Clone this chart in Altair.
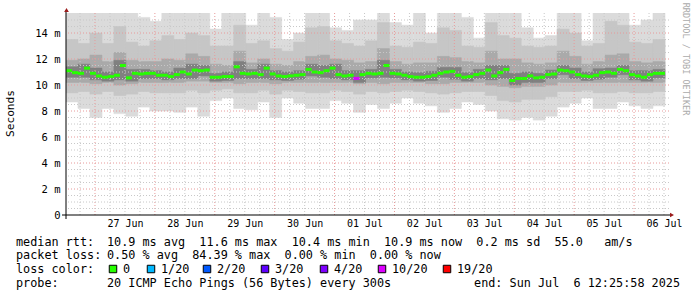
import altair as alt
import numpy as np
import pandas as pd

# ---------------- data ----------------
FIRST_SAMPLE = "2025-06-26 12:23"
MEDIAN_STEP = "144min"   # one median value per 0.1 day
SMOKE_STEP = "288min"    # one smoke column per 0.2 day

median_ms = [
    11.1, 10.95, 10.9, 11.3, 10.9, 10.7, 10.6, 10.65, 10.75, 11.5,
    10.55, 10.9, 10.85, 10.9, 10.9, 10.75, 10.75, 10.65, 10.8, 11.0,
    10.85, 11.15, 11.1, 11.15, 10.6, 10.6, 10.65, 10.65, 11.4, 10.9,
    10.85, 10.9, 10.8, 11.3, 10.85, 10.7, 10.65, 10.7, 10.75, 10.8,
    11.2, 11.0, 10.95, 11.1, 11.3, 10.8, 10.7, 10.75, 10.5, 10.8,
    10.9, 10.85, 10.9, 11.5, 10.9, 10.85, 10.75, 10.65, 10.6, 10.6,
    10.65, 10.75, 10.9, 11.0, 11.05, 10.75, 10.6, 10.65, 10.8, 10.9,
    11.15, 10.7, 10.95, 11.2, 10.35, 10.5, 10.5, 10.7, 10.55, 10.6,
    10.8, 10.85, 11.15, 11.1, 11.0, 10.8, 10.7, 10.65, 10.75, 10.95,
    11.0, 10.9, 11.2, 11.1, 10.8, 10.7, 10.6, 10.8, 10.9, 10.9,
]
loss_events = {48: "10/20"}   # median slots with packet loss

smoke_bot = [
    8.7, 8.2, 7.5, 8.2, 7.8, 7.6, 8.3, 8.0, 8.0, 7.9,
    8.3, 7.6, 8.8, 9.0, 8.2, 8.1, 8.7, 7.5, 9.0, 8.6,
    8.2, 8.2, 8.8, 8.6, 7.9, 8.5, 8.2, 8.6, 9.0, 8.6,
    8.4, 7.9, 8.2, 8.7, 8.5, 8.0, 7.4, 7.3, 7.5, 7.3,
    7.6, 8.3, 8.6, 9.0, 8.2, 8.2, 8.7, 8.4, 8.2, 8.4,
]
smoke_lo2 = [
    9.4, 9.5, 9.3, 9.5, 9.2, 9.3, 9.5, 9.4, 9.4, 9.4,
    9.6, 9.4, 9.6, 9.7, 9.4, 9.4, 9.6, 9.3, 9.6, 9.5,
    9.4, 9.4, 9.6, 9.5, 9.3, 9.5, 9.4, 9.5, 9.6, 9.5,
    9.4, 9.3, 9.4, 9.5, 9.5, 9.2, 8.8, 8.7, 8.9, 8.9,
    9.1, 9.5, 9.5, 9.6, 9.4, 9.4, 9.5, 9.4, 9.4, 9.5,
]
smoke_lo1 = [
    10.2, 10.2, 10.1, 10.2, 10.0, 10.1, 10.2, 10.2, 10.2, 10.2,
    10.3, 10.3, 10.2, 10.2, 10.1, 10.2, 10.2, 10.1, 10.2, 10.2,
    10.2, 10.2, 10.2, 10.2, 10.1, 10.2, 10.1, 10.2, 10.2, 10.2,
    10.1, 10.1, 10.2, 10.2, 10.2, 10.0, 9.9, 9.8, 9.9, 9.9,
    10.0, 10.2, 10.2, 10.2, 10.2, 10.2, 10.2, 10.2, 10.2, 10.2,
]
smoke_core_lo = [
    10.6, 10.6, 10.4, 10.3, 10.4, 10.3, 10.5, 10.5, 10.4, 10.5,
    10.5, 10.7, 10.3, 10.35, 10.5, 10.5, 10.5, 10.4, 10.35, 10.45,
    10.7, 10.6, 10.5, 10.4, 10.2, 10.55, 10.6, 10.55, 10.4, 10.3,
    10.35, 10.6, 10.45, 10.3, 10.5, 10.4, 10.5, 10.0, 10.2, 10.2,
    10.5, 10.8, 10.5, 10.35, 10.45, 10.6, 10.8, 10.4, 10.3, 10.55,
]
smoke_core_hi = [
    11.4, 11.6, 11.3, 11.0, 11.9, 11.2, 11.2, 11.1, 11.0, 11.3,
    11.6, 11.5, 10.9, 11.0, 11.8, 11.2, 11.6, 11.1, 11.0, 11.1,
    11.6, 11.5, 11.6, 11.1, 11.1, 11.2, 11.9, 11.2, 11.0, 10.95,
    11.05, 11.35, 11.35, 10.95, 11.2, 11.5, 11.5, 10.9, 11.0, 10.9,
    11.15, 11.5, 11.3, 11.0, 11.25, 11.3, 11.5, 11.1, 11.1, 11.2,
]
smoke_hi1 = [
    11.9, 12.0, 12.3, 11.8, 12.5, 11.9, 11.8, 11.8, 12.0, 11.9,
    12.4, 12.2, 11.6, 11.5, 12.6, 11.7, 12.0, 11.6, 11.5, 11.8,
    12.2, 12.3, 12.0, 11.9, 11.7, 11.8, 12.8, 11.8, 11.6, 11.7,
    11.7, 12.2, 12.1, 11.8, 11.7, 12.6, 12.0, 12.0, 11.7, 11.6,
    11.7, 12.6, 12.2, 11.6, 11.8, 12.3, 12.4, 11.8, 11.7, 11.8,
]
smoke_hi2 = [
    13.5, 13.2, 14.0, 13.2, 14.5, 13.3, 13.0, 13.4, 13.8, 13.5,
    14.0, 13.8, 13.0, 13.0, 14.6, 13.2, 13.4, 12.8, 12.6, 13.3,
    14.4, 14.5, 13.4, 13.2, 13.0, 13.4, 14.8, 13.0, 12.9, 13.3,
    13.2, 14.4, 14.2, 13.0, 12.9, 14.8, 13.8, 13.6, 13.0, 12.9,
    13.0, 14.3, 14.0, 13.0, 13.2, 14.9, 14.6, 13.3, 13.2, 13.5,
]
smoke_top = [
    15.6, 15.6, 15.6, 15.6, 15.6, 15.6, 15.2, 14.9, 15.6, 15.6,
    15.6, 15.6, 14.3, 15.6, 15.6, 14.6, 15.6, 15.2, 13.5, 14.0,
    15.6, 15.6, 14.4, 14.2, 15.0, 15.0, 15.6, 14.8, 14.6, 15.6,
    14.0, 15.6, 15.6, 15.2, 13.6, 15.6, 15.6, 15.6, 14.4, 13.6,
    13.8, 15.6, 15.6, 13.4, 15.6, 15.6, 15.6, 14.6, 15.0, 15.6,
]

loss_labels = ["0", "1/20", "2/20", "3/20", "4/20", "10/20", "19/20"]
loss_colors = ["#26ff00", "#00b8ff", "#0059ff", "#5e00ff", "#7e00ff", "#dd00ff", "#ff0000"]

rtt_line = "10.9 ms avg  11.6 ms max  10.4 ms min  10.9 ms now  0.2 ms sd  55.0   am/s"
loss_line = "0.50 % avg  84.39 % max  0.00 % min  0.00 % now"
probe_line = "20 ICMP Echo Pings (56 Bytes) every 300s"
end_line = "end: Sun Jul  6 12:25:58 2025"

# ---------------- tables ----------------
med = pd.DataFrame({
    "t": pd.date_range(FIRST_SAMPLE, periods=len(median_ms), freq=MEDIAN_STEP),
    "med": median_ms,
})
med["t_end"] = med["t"] + pd.Timedelta(MEDIAN_STEP)
med["loss"] = [loss_events.get(i, "0") for i in range(len(median_ms))]

smoke = pd.DataFrame({
    "t": pd.date_range(FIRST_SAMPLE, periods=len(smoke_top), freq=SMOKE_STEP),
    "bot": smoke_bot, "lo2": smoke_lo2, "lo1": smoke_lo1,
    "clo": smoke_core_lo, "chi": smoke_core_hi,
    "hi1": smoke_hi1, "hi2": smoke_hi2, "top": smoke_top,
})
smoke["t_end"] = smoke["t"] + pd.Timedelta(SMOKE_STEP)

vgrid = pd.DataFrame({"t": pd.date_range("2025-06-26 18:00", "2025-07-06 12:00", freq="6h")})
vgrid["major"] = vgrid["t"].dt.hour == 0
hgrid = pd.DataFrame({"v": np.arange(0.5, 15.01, 0.5)})
hgrid["major"] = (hgrid["v"] % 2) == 0

# ---------------- layout ----------------
W, H = 603, 202
MONO = "DejaVu Sans Mono"
NB = "\u00a0"

xscale = alt.Scale(domain=[alt.DateTime(year=2025, month=6, date=26, hours=12, minutes=23),
                           alt.DateTime(year=2025, month=7, date=6, hours=14, minutes=0)])
yscale = alt.Scale(domain=[0, 15.54], nice=False, zero=False)

label_days = [alt.DateTime(year=2025, month=6, date=d, hours=12) for d in range(27, 31)] + \
             [alt.DateTime(year=2025, month=7, date=d, hours=12) for d in range(1, 7)]

x_axis = alt.Axis(values=label_days, format="%d %b", labelFont=MONO, labelFontSize=10,
                  labelColor="black", labelPadding=3, labelFlush=False, labelOverlap=False,
                  domain=False, ticks=False, grid=False, title=None)
y_axis = alt.Axis(values=list(range(0, 16, 2)),
                  labelExpr="datum.value == 0 ? '0" + NB + NB + "' : datum.value + '" + NB + "m'",
                  labelFont=MONO, labelFontSize=10.5, labelColor="black", labelPadding=6,
                  domain=False, ticks=False, grid=False, title=None)

X = lambda f: alt.X(f, scale=xscale, axis=x_axis)
Y = lambda f: alt.Y(f, scale=yscale, axis=y_axis)


def band(lo, hi, color):
    return alt.Chart(smoke).mark_rect(color=color, stroke=color, strokeWidth=0.6, clip=True).encode(
        x=X("t:T"), x2="t_end:T", y=Y(f"{lo}:Q"), y2=f"{hi}:Q",
    )


layers = [
    band("bot", "top", "#dbdbdb"),
    band("lo2", "hi2", "#c6c6c6"),
    band("lo1", "hi1", "#aaaaaa"),
    band("clo", "chi", "#808080"),
]

layers.append(alt.Chart(vgrid).mark_rule(strokeWidth=1, strokeDash=[1, 2]).encode(
    x=X("t:T"),
    color=alt.condition("datum.major", alt.value("#e89a9a"), alt.value("#c8c8c8")),
))
layers.append(alt.Chart(hgrid).mark_rule(strokeWidth=1, strokeDash=[1, 2]).encode(
    y=Y("v:Q"),
    color=alt.condition("datum.major", alt.value("#e89a9a"), alt.value("#c8c8c8")),
))

layers.append(alt.Chart(med).mark_rule(strokeWidth=3, clip=True).encode(
    x=X("t:T"), x2="t_end:T", y=Y("med:Q"),
    color=alt.Color("loss:N", scale=alt.Scale(domain=loss_labels, range=loss_colors), legend=None),
))

one = pd.DataFrame({"k": [0]})
# axis lines and arrows
layers.append(alt.Chart(one).mark_rule(color="black", strokeWidth=1).encode(
    x=alt.value(-4), x2=alt.value(W + 2), y=alt.value(H)))
layers.append(alt.Chart(one).mark_rule(color="black", strokeWidth=1).encode(
    x=alt.value(0), y=alt.value(-3), y2=alt.value(H + 4)))
layers.append(alt.Chart(one).mark_point(shape="triangle-right", filled=True, size=22,
                                        color="#9b1c1c", opacity=1).encode(
    x=alt.value(W + 3), y=alt.value(H)))
layers.append(alt.Chart(one).mark_point(shape="triangle-up", filled=True, size=22,
                                        color="#9b1c1c", opacity=1).encode(
    x=alt.value(0.5), y=alt.value(-3)))


def txt(s, x, y, size=11.8, align="left", angle=0, color="black", font=MONO):
    return alt.Chart(pd.DataFrame({"s": [s.replace(" ", NB)]})).mark_text(
        align=align, baseline="middle", font=font, fontSize=size, angle=angle, color=color
    ).encode(x=alt.value(x), y=alt.value(y), text="s:N")


layers.append(txt("Seconds", -55.5, 100.5, size=11.2, align="center", angle=270))
layers.append(txt("RRDTOOL / TOBI OETIKER", 620, 46, size=8.5, align="center", angle=90, color="#aaaaaa"))

LX = -50
VX = 41
rows_y = [228.7, 242, 256, 269.7]
layers.append(txt("median rtt:", LX, rows_y[0]))
layers.append(txt(rtt_line, VX, rows_y[0]))
layers.append(txt("packet loss:", LX, rows_y[1]))
layers.append(txt(loss_line, VX, rows_y[1]))
layers.append(txt("loss color:", LX, rows_y[2]))
layers.append(txt("probe:", LX, rows_y[3]))
layers.append(txt(probe_line, VX, rows_y[3]))
layers.append(txt(end_line, 614, rows_y[3], align="right"))

square_left = [109, 147, 203, 261, 320, 378, 443]  # legend layout (page px)
for lab, col, sx in zip(loss_labels, loss_colors, square_left):
    layers.append(alt.Chart(one).mark_square(size=56, color=col, opacity=1, stroke="black",
                                             strokeWidth=1).encode(
        x=alt.value(sx - 66 + 4), y=alt.value(rows_y[2])))
    layers.append(txt(lab, sx - 66 + 14, rows_y[2]))

chart = alt.layer(*layers).properties(
    width=W, height=H,
    padding={"left": 66, "top": 13, "right": 697 - 66 - W, "bottom": 297 - 13 - H},
    autosize="none",
    background="white",
).configure_view(stroke=None)

chart.save("out.html", embed_options={"renderer": "svg", "actions": False})
